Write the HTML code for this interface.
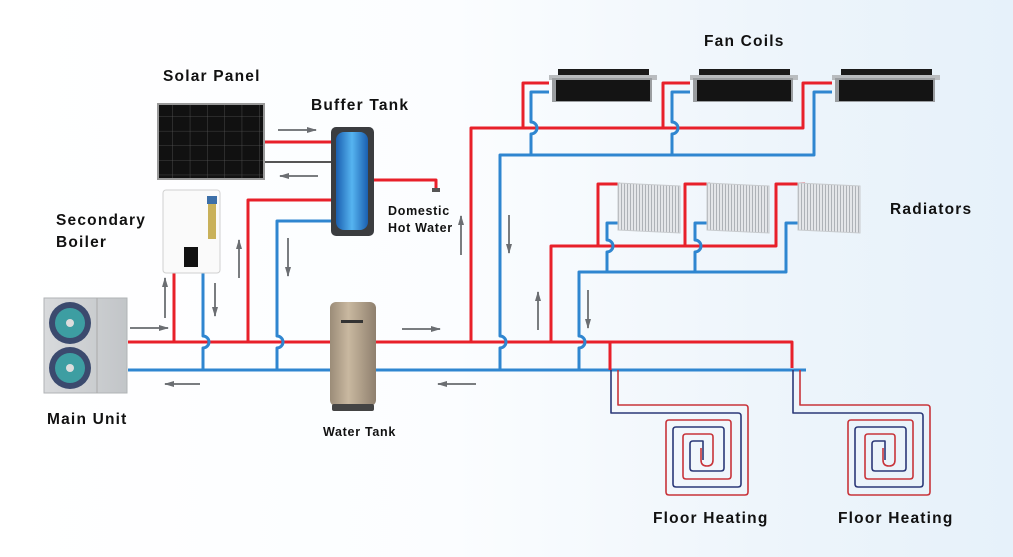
<!DOCTYPE html>
<html><head><meta charset="utf-8"><style>
html,body{margin:0;padding:0}
body{width:1013px;height:557px;overflow:hidden;background:linear-gradient(90deg,#ffffff 0%,#fbfdff 45%,#eef5fb 75%,#e6f1fa 100%)}
svg{display:block}
text{font-family:"Liberation Sans",sans-serif;font-weight:bold;fill:#111}
.b{font-size:15.5px;letter-spacing:1.2px}
.s{font-size:12.5px;letter-spacing:0.7px}
</style></head><body>
<svg width="1013" height="557" viewBox="0 0 1013 557" xmlns="http://www.w3.org/2000/svg">
<defs>
<marker id="ah" markerWidth="10" markerHeight="8" refX="9" refY="4" orient="auto" markerUnits="userSpaceOnUse">
<path d="M0,1 L10,4 L0,7 Z" fill="#6b6e72"/></marker>
<linearGradient id="bt" x1="0" x2="1"><stop offset="0" stop-color="#1a5fb0"/><stop offset=".5" stop-color="#56b4f0"/><stop offset="1" stop-color="#1a5fb0"/></linearGradient>
<linearGradient id="wt" x1="0" x2="1"><stop offset="0" stop-color="#9b8c78"/><stop offset=".4" stop-color="#c9b8a0"/><stop offset="1" stop-color="#8f806e"/></linearGradient>
<linearGradient id="mu" x1="0" x2="1"><stop offset="0" stop-color="#d8dadc"/><stop offset="1" stop-color="#c2c5c8"/></linearGradient>
<pattern id="sp" width="17.3" height="14.6" patternUnits="userSpaceOnUse"><rect width="17.3" height="14.6" fill="#111"/><path d="M17.3,0V14.6M0,14.6H17.3" stroke="#555" stroke-width="0.8"/></pattern>
<pattern id="rd" width="3" height="10" patternUnits="userSpaceOnUse"><rect width="3" height="10" fill="#e4e6e9"/><rect width="1" height="10" fill="#aeb2b7"/></pattern>
</defs>

<g fill="none" stroke-width="3" stroke-linejoin="round">
<path d="M128,342 H330 M376,342 H792 V368" stroke="#e8202a"/>
<path d="M128,370 H330 M376,370 H806" stroke="#2f86d0"/>
<path d="M174,273 V342" stroke="#e8202a"/>
<path d="M203,273 V336 a6,6 0 0 1 0,12 V370" stroke="#2f86d0"/>
<path d="M265,142 H331" stroke="#e8202a"/>
<path d="M265,162 H331" stroke="#555" stroke-width="2"/>
<path d="M374,180 H436 V188" stroke="#e8202a"/>
<path d="M331,200 H248 V342" stroke="#e8202a"/>
<path d="M331,221 H277 V336 a6,6 0 0 1 0,12 V370" stroke="#2f86d0"/>
<path d="M471,342 V128 H803 V83 H832 M523,128 V83 H549 M663,128 V83 H690" stroke="#e8202a"/>
<path d="M500,370 V348 a6,6 0 0 0 0,-12 V155 H814 V92 H832 M531,155 V134 a6,6 0 0 0 0,-12 V92 H549 M672,155 V134 a6,6 0 0 0 0,-12 V92 H690" stroke="#2f86d0"/>
<path d="M551,342 V246 H776 V184 H805 M598,246 V184 H620 M685,246 V184 H710" stroke="#e8202a"/>
<path d="M579,370 V348 a6,6 0 0 0 0,-12 V272 H786 V223 H805 M607,272 V252 a6,6 0 0 0 0,-12 V223 H620 M695,272 V252 a6,6 0 0 0 0,-12 V223 H710" stroke="#2f86d0"/>
<path d="M610,342 V370" stroke="#e8202a"/>
</g>

<g fill="none" stroke-width="1.6" stroke-linejoin="round">
<g id="fh">
<path d="M618,370 V405 H745 q3,0 3,3 V492 q0,3 -3,3 H669 q-3,0 -3,-3 V423 q0,-3 3,-3 H728 q3,0 3,3 V476 q0,3 -3,3 H686 q-3,0 -3,-3 V437 q0,-3 3,-3 H710 q3,0 3,3 V460 q0,6 -6,6 q-6,0 -6,-6 V448" stroke="#c8343a"/>
<path d="M611,370 V413 H738 q3,0 3,3 V484 q0,3 -3,3 H676 q-3,0 -3,-3 V430 q0,-3 3,-3 H721 q3,0 3,3 V468 q0,3 -3,3 H693 q-3,0 -3,-3 V444 q0,-3 3,-3 H703 V460" stroke="#2b3878"/>
</g>
<use href="#fh" x="182"/>
</g>

<g stroke="#7a7d80" stroke-width="2" marker-end="url(#ah)">
<line x1="278" y1="130" x2="316" y2="130"/>
<line x1="318" y1="176" x2="280" y2="176"/>
<line x1="130" y1="328" x2="168" y2="328"/>
<line x1="200" y1="384" x2="165" y2="384"/>
<line x1="402" y1="329" x2="440" y2="329"/>
<line x1="476" y1="384" x2="438" y2="384"/>
<line x1="165" y1="318" x2="165" y2="278"/>
<line x1="215" y1="283" x2="215" y2="316"/>
<line x1="239" y1="278" x2="239" y2="240"/>
<line x1="288" y1="238" x2="288" y2="276"/>
<line x1="461" y1="255" x2="461" y2="216"/>
<line x1="509" y1="215" x2="509" y2="253"/>
<line x1="538" y1="330" x2="538" y2="292"/>
<line x1="588" y1="290" x2="588" y2="328"/>
</g>

<rect x="157" y="103" width="108" height="77" fill="#999"/>
<rect x="159" y="105" width="104" height="73" fill="url(#sp)"/>

<rect x="163" y="190" width="57" height="83" rx="3" fill="#fafafa" stroke="#d0d0d0"/>
<rect x="208" y="197" width="8" height="42" fill="#c9b15a"/>
<rect x="207" y="196" width="10" height="8" fill="#3c6fa8"/>
<rect x="184" y="247" width="14" height="20" fill="#111"/>

<rect x="44" y="298" width="83" height="95" fill="url(#mu)" stroke="#b0b3b6"/>
<line x1="97" y1="298" x2="97" y2="393" stroke="#aaa"/>
<circle cx="70" cy="323" r="21" fill="#3b4a6e"/><circle cx="70" cy="323" r="15" fill="#3ec2b8" opacity=".7"/><circle cx="70" cy="323" r="4" fill="#ddd"/>
<circle cx="70" cy="368" r="21" fill="#3b4a6e"/><circle cx="70" cy="368" r="15" fill="#3ec2b8" opacity=".7"/><circle cx="70" cy="368" r="4" fill="#ddd"/>

<rect x="331" y="127" width="43" height="109" rx="5" fill="#3b3d40"/>
<rect x="336" y="132" width="32" height="98" rx="8" fill="url(#bt)"/>
<path d="M432,188 h8 v4 h-8 z" fill="#555"/>

<rect x="330" y="302" width="46" height="104" rx="6" fill="url(#wt)"/>
<rect x="341" y="320" width="22" height="3" fill="#333"/>
<rect x="332" y="404" width="42" height="7" rx="2" fill="#444"/>

<g id="fc">
<rect x="558" y="69" width="91" height="6" fill="#1a1a1a"/>
<rect x="549" y="75" width="108" height="5" fill="#b9bcbf"/>
<rect x="552" y="78" width="100" height="24" fill="#9a9da0"/>
<rect x="556" y="80" width="94" height="21" fill="#141414"/>
</g>
<use href="#fc" x="141"/>
<use href="#fc" x="283"/>

<g id="rad">
<path d="M618,183 L680,186 V233 L618,230 Z" fill="url(#rd)" stroke="#c8cbce"/>
</g>
<use href="#rad" x="89"/>
<use href="#rad" x="180"/>

<text x="163" y="81" class="b">Solar Panel</text>
<text x="311" y="110" class="b">Buffer Tank</text>
<text x="704" y="46" class="b">Fan Coils</text>
<text x="890" y="214" class="b">Radiators</text>
<text x="56" y="225" class="b">Secondary</text>
<text x="56" y="247" class="b">Boiler</text>
<text x="388" y="215" class="s">Domestic</text>
<text x="388" y="232" class="s">Hot Water</text>
<text x="47" y="424" class="b">Main Unit</text>
<text x="323" y="436" class="s">Water Tank</text>
<text x="653" y="523" class="b">Floor Heating</text>
<text x="838" y="523" class="b">Floor Heating</text>
</svg>
</body></html>
